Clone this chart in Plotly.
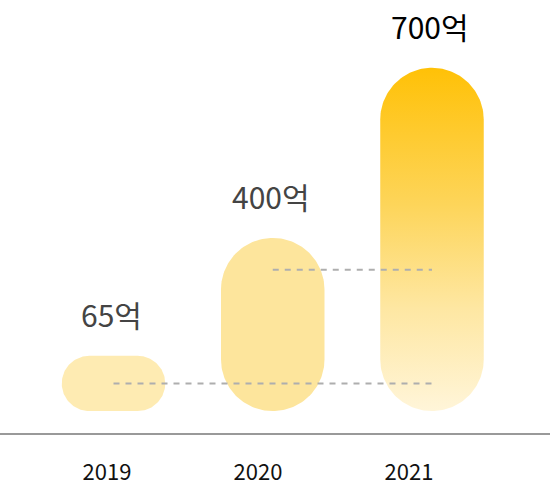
import numpy as np
import plotly.graph_objects as go

# ---- data ----
years = ["2019", "2020", "2021"]
values = [65, 400, 700]            # amounts (억)
bar_tops = [148, 374, 700]         # drawn bar tops on the value axis
bar_bottoms = [42, 42, 42]         # drawn bar bottoms on the value axis
guide_levels = [95, 313]           # dashed guide levels from 2019 / 2020 to 2021

# ---- styles ----
bar_colors = ["#FEEBB2", "#FDE59C", None]
grad_scale = [[0.0, "#FFF5D9"], [0.3, "#FEE7A2"], [0.6, "#FDD55A"], [1.0, "#FFC107"]]
FONT = "Noto Sans CJK KR"

W, H = 550, 489
M_B = 56
X_RANGE = [-0.7127, 2.741]
X2_RANGE = [-0.7086, 2.934]
Y_RANGE = [0, 830]
BAR_W = 0.65

px_x = W / (X_RANGE[1] - X_RANGE[0])
px_y = (H - M_B) / (Y_RANGE[1] - Y_RANGE[0])


def pill(cx, y0, y1, w):
    wpx = w * px_x
    hpx = (y1 - y0) * px_y
    r = min(wpx, hpx) / 2
    left, right = -wpx / 2 + r, wpx / 2 - r
    bot, top = r, hpx - r
    xs, ys = [], []
    for ccx, ccy, a0 in [(right, top, 0), (left, top, 90), (left, bot, 180), (right, bot, 270)]:
        a = np.radians(np.linspace(a0, a0 + 90, 40))
        xs.extend(ccx + r * np.cos(a))
        ys.extend(ccy + r * np.sin(a))
    xs.append(xs[0])
    ys.append(ys[0])
    return cx + np.array(xs) / px_x, y0 + np.array(ys) / px_y


fig = go.Figure()

for i in range(len(years)):
    px, py = pill(i, bar_bottoms[i], bar_tops[i], BAR_W)
    kw = dict(x=px, y=py, mode="lines", fill="toself", line=dict(width=0),
              hoverinfo="skip", showlegend=False)
    if bar_colors[i] is None:
        kw["fillgradient"] = dict(type="vertical", colorscale=grad_scale)
    else:
        kw["fillcolor"] = bar_colors[i]
    fig.add_trace(go.Scatter(**kw))

last = len(years) - 1
for i, lvl in enumerate(guide_levels):
    fig.add_trace(go.Scatter(x=[i, last], y=[lvl, lvl], mode="lines",
                             line=dict(color="#AEAEAE", width=2, dash="6px,6px"),
                             hoverinfo="skip", showlegend=False))

# invisible trace carrying the year axis
fig.add_trace(go.Scatter(x=list(range(len(years))), y=[0] * len(years), xaxis="x2",
                         mode="markers", marker=dict(opacity=0), hoverinfo="skip",
                         showlegend=False))

for i, v in enumerate(values):
    is_last = i == last
    fig.add_annotation(x=i, y=bar_tops[i], text=f"{v}억", showarrow=False,
                       xanchor="center", yanchor="middle", yshift=42, xshift=-2,
                       font=dict(family=FONT, size=30,
                                 color="#000000" if is_last else "#444444"))

fig.update_layout(
    width=W, height=H,
    margin=dict(l=0, r=0, t=0, b=M_B),
    paper_bgcolor="white", plot_bgcolor="white",
    xaxis=dict(range=X_RANGE, showline=True, linecolor="#999999", linewidth=2,
               showgrid=False, zeroline=False, showticklabels=False, ticks=""),
    xaxis2=dict(range=X2_RANGE, overlaying="x", anchor="y", side="bottom",
                tickvals=list(range(len(years))), ticktext=years,
                tickfont=dict(family=FONT, size=22, color="#111111"),
                ticks="outside", ticklen=20, tickcolor="rgba(0,0,0,0)",
                showgrid=False, zeroline=False, showline=False),
    yaxis=dict(range=Y_RANGE, visible=False),
    hovermode=False,
)

fig.write_html("out.html")
